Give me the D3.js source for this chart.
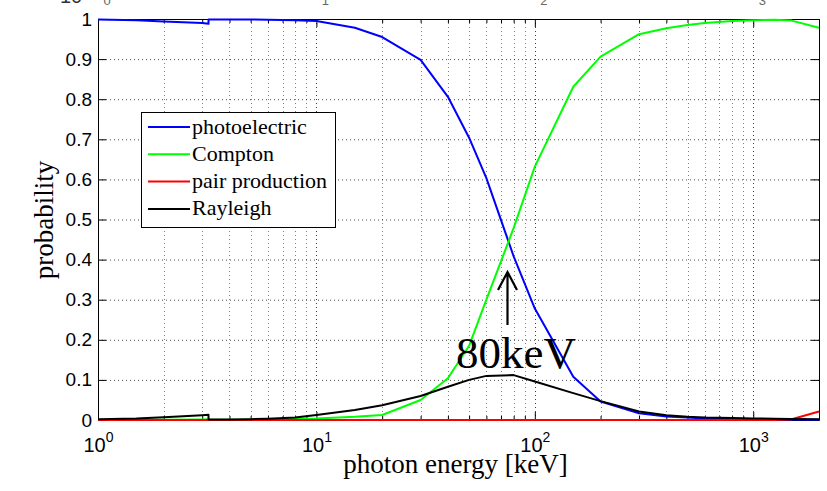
<!DOCTYPE html>
<html lang="en">
  <head>
    <meta charset="UTF-8" />
    <title>photon interaction probability</title>
    <style>
      html,
      body {
        margin: 0;
        background: #fff;
      }
      svg {
        display: block;
      }
    </style>
    <script src="https://cdn.jsdelivr.net/npm/d3@7"></script>
  </head>
  <body>
    <script>
      // canvas
      const width = 827;
      const height = 491;
      const margin = { left: 98, right: 8, top: 19, bottom: 71 };

      // data: photon energy (keV) and probability
      // 3.206 keV appears twice (absorption edge)
      const energy = [1, 1.5, 2, 3, 3.206, 3.206, 4, 5, 6, 8, 10, 15, 20, 30, 40, 50, 60, 80, 100, 150, 200, 300, 400, 500, 600, 800, 1000, 1022, 1250, 1500, 2000];
      const photoelectric = [0.999, 0.997, 0.994, 0.99, 0.988, 0.999, 0.999, 0.999, 0.998, 0.997, 0.995, 0.978, 0.955, 0.898, 0.806, 0.704, 0.603, 0.408, 0.278, 0.108, 0.046, 0.017, 0.009, 0.006, 0.004, 0.003, 0.002, 0.002, 0.0015, 0.001, 0.0006];
      const compton = [0.0002, 0.0004, 0.0008, 0.0015, 0.0017, 0.0005, 0.0008, 0.0012, 0.0017, 0.003, 0.004, 0.008, 0.0125, 0.05, 0.104, 0.185, 0.3, 0.479, 0.632, 0.831, 0.906, 0.962, 0.977, 0.985, 0.99, 0.995, 0.997, 0.997, 0.998, 0.996, 0.978];
      const pairProduction = [0, 0, 0, 0, 0, 0, 0, 0, 0, 0, 0, 0, 0, 0, 0, 0, 0, 0, 0, 0, 0, 0, 0, 0, 0, 0, 0, 0, 0.0003, 0.002, 0.021];
      const rayleigh = [0.002, 0.004, 0.007, 0.012, 0.013, 0.001, 0.001, 0.002, 0.003, 0.006, 0.0125, 0.025, 0.037, 0.06, 0.083, 0.1, 0.11, 0.112, 0.096, 0.067, 0.047, 0.021, 0.012, 0.008, 0.006, 0.005, 0.004, 0.004, 0.003, 0.0025, 0.002];

      const seriesNames = ["photoelectric", "Compton", "pair production", "Rayleigh"];
      const seriesColors = ["#0000ff", "#00ff00", "#ff0000", "#000000"];
      const seriesValues = [photoelectric, compton, pairProduction, rayleigh];

      const xTicks = [1, 10, 100, 1000];
      const xTickExponents = ["0", "1", "2", "3"];
      const yTicks = [0, 0.1, 0.2, 0.3, 0.4, 0.5, 0.6, 0.7, 0.8, 0.9, 1];
      const yTickLabels = ["0", "0.1", "0.2", "0.3", "0.4", "0.5", "0.6", "0.7", "0.8", "0.9", "1"];

      const annotationEnergy = 74.5;
      const annotationText = "80keV";

      const svg = d3
        .select("body")
        .append("svg")
        .attr("width", width)
        .attr("height", height);

      // scales
      const x = d3
        .scaleLog()
        .domain([1, 2000])
        .range([margin.left, width - margin.right]);
      const y = d3
        .scaleLinear()
        .domain([0, 1])
        .range([height - margin.bottom, margin.top]);

      const x0 = margin.left;
      const x1 = width - margin.right;
      const y0 = height - margin.bottom;
      const y1 = margin.top;

      const xMinor = x.ticks().filter((d) => !xTicks.includes(d));

      // cropped remains of a chart above (top edge)
      svg
        .append("text")
        .attr("x", 60)
        .attr("y", 3)
        .attr("font-family", "Arial, 'Liberation Sans', sans-serif")
        .attr("font-size", 20)
        .attr("fill", "#333")
        .text("10");
      svg
        .selectAll(".crop-sup")
        .data(xTickExponents)
        .enter()
        .append("text")
        .attr("class", "crop-sup")
        .attr("x", (d, i) => x(xTicks[i]) + 9)
        .attr("y", 5)
        .attr("text-anchor", "middle")
        .attr("font-family", "Arial, 'Liberation Sans', sans-serif")
        .attr("font-size", 13)
        .attr("fill", "#666")
        .text((d) => d);

      // grid
      const grid = svg.append("g").attr("class", "grid");
      grid
        .selectAll(".gy")
        .data(yTicks.slice(1, -1))
        .enter()
        .append("line")
        .attr("x1", x0)
        .attr("x2", x1)
        .attr("y1", (d) => y(d) + 0.5)
        .attr("y2", (d) => y(d) + 0.5)
        .attr("stroke", "#000")
        .attr("stroke-opacity", 0.7)
        .attr("stroke-dasharray", "1,3");
      grid
        .selectAll(".gx")
        .data(xTicks.slice(1))
        .enter()
        .append("line")
        .attr("x1", (d) => Math.round(x(d)) + 0.5)
        .attr("x2", (d) => Math.round(x(d)) + 0.5)
        .attr("y1", y0)
        .attr("y2", y1)
        .attr("stroke", "#000")
        .attr("stroke-opacity", 0.75)
        .attr("stroke-dasharray", "1,3");
      grid
        .selectAll(".gxm")
        .data(xMinor)
        .enter()
        .append("line")
        .attr("x1", (d) => Math.round(x(d)) + 0.5)
        .attr("x2", (d) => Math.round(x(d)) + 0.5)
        .attr("y1", y0)
        .attr("y2", y1)
        .attr("stroke", "#000")
        .attr("stroke-opacity", 0.5)
        .attr("stroke-dasharray", "1,3");

      // axes (box with inward ticks)
      const axisFont = "Arial, 'Liberation Sans', sans-serif";

      const bottomAxis = svg
        .append("g")
        .attr("transform", `translate(0, ${y0})`)
        .call(
          d3.axisBottom(x).tickValues(xTicks).tickSize(-8).tickSizeOuter(0).tickFormat(() => "")
        );
      bottomAxis
        .selectAll(".tick text")
        .attr("y", 32)
        .attr("dy", 0)
        .attr("font-family", axisFont)
        .attr("font-size", 20)
        .attr("fill", "#000")
        .each(function (d, i) {
          const t = d3.select(this);
          t.append("tspan").text("10");
          t.append("tspan").attr("dy", -10).attr("font-size", 14).text(xTickExponents[i]);
        });

      svg
        .append("g")
        .attr("transform", `translate(0, ${y0})`)
        .call(d3.axisBottom(x).tickValues(xMinor).tickSize(-4).tickSizeOuter(0).tickFormat(() => ""))
        .call((g) => g.select(".domain").remove());

      svg
        .append("g")
        .attr("transform", `translate(0, ${y1})`)
        .call(d3.axisTop(x).tickValues(xTicks).tickSize(-8).tickSizeOuter(0).tickFormat(() => ""));
      svg
        .append("g")
        .attr("transform", `translate(0, ${y1})`)
        .call(d3.axisTop(x).tickValues(xMinor).tickSize(-4).tickSizeOuter(0).tickFormat(() => ""))
        .call((g) => g.select(".domain").remove());

      svg
        .append("g")
        .attr("transform", `translate(${x0}, 0)`)
        .call(
          d3
            .axisLeft(y)
            .tickValues(yTicks)
            .tickSize(-8)
            .tickSizeOuter(0)
            .tickPadding(6)
            .tickFormat((d, i) => yTickLabels[i])
        )
        .call((g) =>
          g.selectAll(".tick text").attr("font-family", axisFont).attr("font-size", 19).attr("fill", "#000")
        );

      svg
        .append("g")
        .attr("transform", `translate(${x1}, 0)`)
        .call(d3.axisRight(y).tickValues(yTicks).tickSize(-8).tickSizeOuter(0).tickFormat(() => ""));

      // lines
      const line = d3
        .line()
        .x((d, i) => x(energy[i]))
        .y((d) => y(d));

      svg
        .selectAll(".series")
        .data(seriesValues)
        .enter()
        .append("path")
        .attr("class", "series")
        .attr("d", (d) => line(d))
        .attr("fill", "none")
        .attr("stroke", (d, i) => seriesColors[i])
        .attr("stroke-width", 2)
        .attr("stroke-linejoin", "round");

      // axis titles
      svg
        .append("text")
        .attr("x", (x0 + x1) / 2 - 3)
        .attr("y", 473)
        .attr("text-anchor", "middle")
        .attr("font-family", "'Liberation Serif', 'Times New Roman', serif")
        .attr("font-size", 27)
        .text("photon energy [keV]");

      svg
        .append("text")
        .attr("transform", `translate(53, 220) rotate(-90)`)
        .attr("text-anchor", "middle")
        .attr("font-family", "'Liberation Serif', 'Times New Roman', serif")
        .attr("font-size", 27)
        .text("probability");

      // legend
      const legend = svg.append("g").attr("class", "legend");
      legend
        .append("rect")
        .attr("x", 141.5)
        .attr("y", 112.5)
        .attr("width", 194)
        .attr("height", 115)
        .attr("fill", "#fff")
        .attr("stroke", "#000")
        .attr("stroke-width", 1);
      const rows = legend
        .selectAll(".row")
        .data(seriesNames)
        .enter()
        .append("g")
        .attr("class", "row")
        .attr("transform", (d, i) => `translate(0, ${127 + i * 27.3})`);
      rows
        .append("line")
        .attr("x1", 148)
        .attr("x2", 190)
        .attr("stroke", (d, i) => seriesColors[i])
        .attr("stroke-width", 2);
      rows
        .append("text")
        .attr("x", 192)
        .attr("y", 6.5)
        .attr("font-family", "'Liberation Serif', 'Times New Roman', serif")
        .attr("font-size", 22)
        .text((d) => d);

      // annotation
      const ax = Math.round(x(annotationEnergy)) + 0.5;
      svg
        .append("path")
        .attr("d", `M${ax},325 L${ax},272 M${ax - 9.5},290 L${ax},272 L${ax + 9.5},290`)
        .attr("fill", "none")
        .attr("stroke", "#000")
        .attr("stroke-width", 2.2);
      svg
        .append("text")
        .attr("x", 456)
        .attr("y", 368)
        .attr("font-family", "'Liberation Serif', 'Times New Roman', serif")
        .attr("font-size", 45)
        .text(annotationText);
    </script>
  </body>
</html>
